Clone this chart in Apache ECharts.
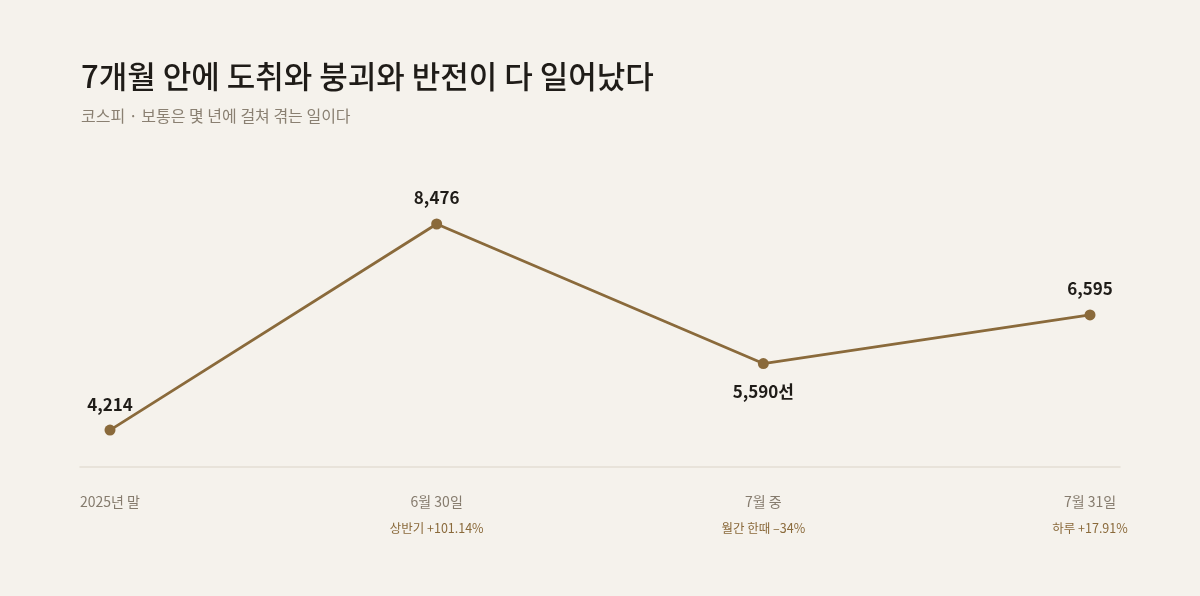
<!DOCTYPE html>
<html><head><meta charset="utf-8">
<script src="https://cdn.jsdelivr.net/npm/echarts@6/dist/echarts.min.js"></script>
<style>html,body{margin:0;padding:0;background:#f5f2ec;}#c{width:1200px;height:596px;}</style>
</head><body><div id="c"></div>
<script>
const categories = ['2025년 말', '6월 30일', '7월 중', '7월 31일'];
const subLabels = ['', '상반기 +101.14%', '월간 한때 \u201334%', '하루 +17.91%'];
const values = [4214, 8476, 5590, 6595];
const pointLabels = ['4,214', '8,476', '5,590선', '6,595'];
const labelBelow = [false, false, true, false];

const font = '"Noto Sans CJK KR", "Noto Sans", sans-serif';
const brown = '#8a6a3b';

const chart = echarts.init(document.getElementById('c'));
chart.setOption({
  backgroundColor: '#f5f2ec',
  textStyle: { fontFamily: font },
  title: {
    text: '7개월 안에 도취와 붕괴와 반전이 다 일어났다',
    subtext: '코스피 · 보통은 몇 년에 걸쳐 겪는 일이다',
    left: 76, top: 56,
    itemGap: 16,
    textStyle: { fontFamily: font, fontSize: 31, fontWeight: 500, color: '#1f1c18' },
    subtextStyle: { fontFamily: font, fontSize: 16, color: '#8a8072' }
  },
  grid: [
    { left: 80, right: 80, top: 160, bottom: 129 },
    { left: 110, right: 110, top: 160, bottom: 129 }
  ],
  xAxis: [
    { type: 'category', gridIndex: 0, data: ['a'], axisLine: { show: true, lineStyle: { color: '#e3ded4', width: 1.5 } },
      axisTick: { show: false }, axisLabel: { show: false }, splitLine: { show: false } },
    { type: 'category', gridIndex: 1, data: categories, boundaryGap: false,
      axisLine: { show: false }, axisTick: { show: false },
      axisLabel: {
        margin: 22, interval: 0,
        formatter: (v, i) => '{a|' + v + '}\n{b|' + (subLabels[i] || ' ') + '}',
        rich: {
          a: { fontFamily: font, fontSize: 14, color: '#857b6d', lineHeight: 26 },
          b: { fontFamily: font, fontSize: 12.5, color: brown, lineHeight: 26 }
        }
      } }
  ],
  yAxis: [
    { type: 'value', gridIndex: 0, min: 3450, max: 9800, show: false, splitLine: { show: false } },
    { type: 'value', gridIndex: 1, min: 3450, max: 9800, show: false, splitLine: { show: false } }
  ],
  series: [{
    type: 'line', xAxisIndex: 1, yAxisIndex: 1,
    data: values.map((v, i) => ({
      value: v,
      label: { position: labelBelow[i] ? 'bottom' : 'top', distance: labelBelow[i] ? 14 : 12 }
    })),
    symbol: 'circle', symbolSize: 11,
    lineStyle: { color: brown, width: 2.8 },
    itemStyle: { color: brown },
    label: {
      show: true,
      formatter: p => pointLabels[p.dataIndex],
      fontFamily: font, fontSize: 17, fontWeight: 600, color: '#1f1c18'
    },
    animation: false
  }],
  animation: false
});
</script></body></html>
